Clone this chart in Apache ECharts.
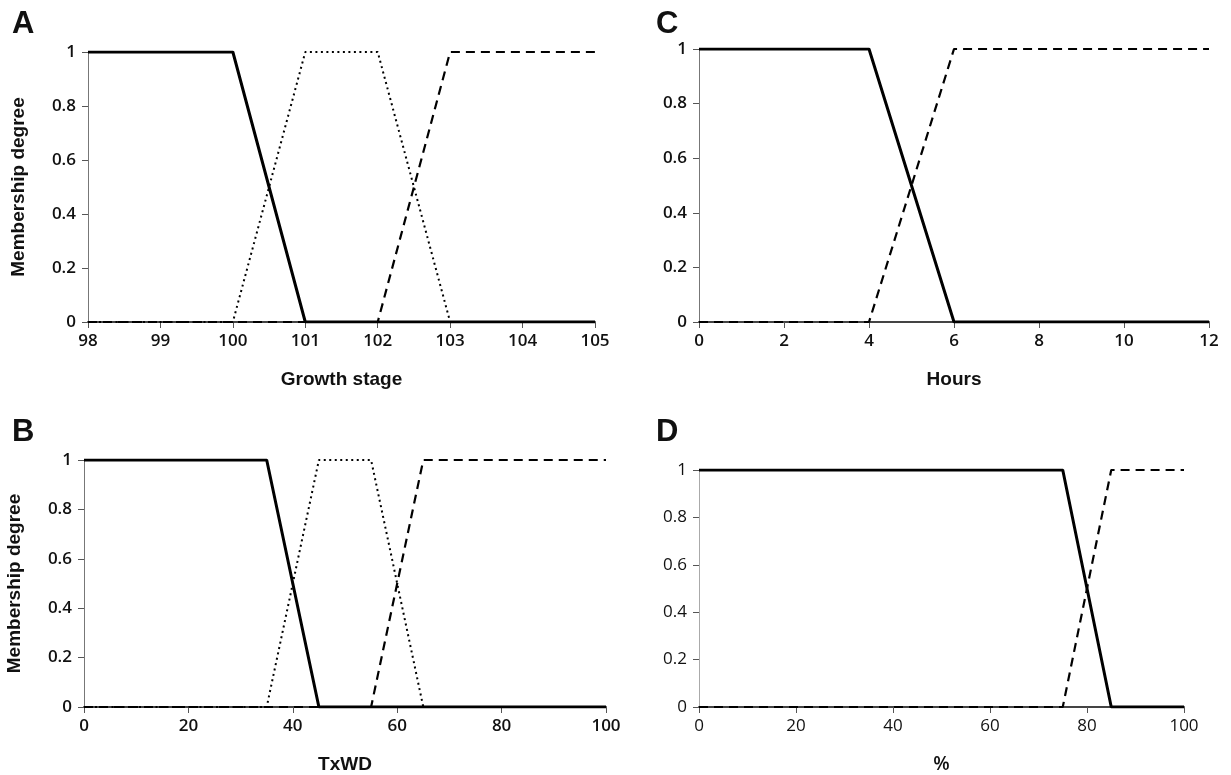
<!DOCTYPE html>
<html>
<head>
<meta charset="utf-8">
<script src="https://cdn.jsdelivr.net/npm/echarts@6/dist/echarts.min.js"></script>
<style>
html,body{margin:0;padding:0;background:#fff;}
#c{width:1231px;height:775px;}
</style>
</head>
<body>
<div id="c"></div>
<script>
// ---- Data ----
const panelLetters = ['A', 'B', 'C', 'D'];
const xNames = ['Growth stage', 'TxWD', 'Hours', '%'];
const yName = 'Membership degree';

// Panel A: Growth stage
const aSolidX = [98, 100, 101, 105];
const aSolidY = [1, 1, 0, 0];
const aDotX = [98, 100, 101, 102, 103, 105];
const aDotY = [0, 0, 1, 1, 0, 0];
const aDashX = [98, 102, 103, 105];
const aDashY = [0, 0, 1, 1];

// Panel B: TxWD
const bSolidX = [0, 35, 45, 100];
const bSolidY = [1, 1, 0, 0];
const bDotX = [0, 35, 45, 55, 65, 100];
const bDotY = [0, 0, 1, 1, 0, 0];
const bDashX = [0, 55, 65, 100];
const bDashY = [0, 0, 1, 1];

// Panel C: Hours
const cSolidX = [0, 4, 6, 12];
const cSolidY = [1, 1, 0, 0];
const cDashX = [0, 4, 6, 12];
const cDashY = [0, 0, 1, 1];

// Panel D: %
const dSolidX = [0, 75, 85, 100];
const dSolidY = [1, 1, 0, 0];
const dDashX = [0, 75, 85, 100];
const dDashY = [0, 0, 1, 1];

// Axis ranges
const xRanges = [[98, 105, 1], [0, 100, 20], [0, 12, 2], [0, 100, 20]];

function pairs(xs, ys) { return xs.map((x, i) => [x, ys[i]]); }

// ---- Layout ----
const grids = [
  {left: 88, width: 507, top: 52, height: 270},
  {left: 84, width: 522, top: 460, height: 247},
  {left: 699, width: 510, top: 49, height: 273},
  {left: 699, width: 485, top: 470, height: 238}
];
const titlePos = [[7, 4], [7, 412], [651, 4], [651, 412]];

const tickFont = {fontFamily: 'Open Sans', fontSize: 17, color: '#111'};
const nameFont = {fontFamily: 'Liberation Sans', fontSize: 19, fontWeight: 'bold', color: '#111'};

const xAxes = xRanges.map((r, i) => ({
  type: 'value', gridIndex: i, min: r[0], max: r[1], interval: r[2],
  name: xNames[i], nameLocation: 'middle', nameGap: 48,
  nameTextStyle: i === 3 ? Object.assign({}, nameFont, {fontFamily: 'Open Sans', fontWeight: 600}) : nameFont,
  axisLine: {show: true, onZero: false, lineStyle: {color: '#444', width: 2}},
  axisTick: {show: true, inside: false, length: 6, lineStyle: {color: '#555', width: 1}},
  axisLabel: Object.assign({margin: 11}, tickFont, {fontWeight: i === 3 ? 'normal' : 600}),
  splitLine: {show: false}
}));

const yAxes = grids.map((g, i) => ({
  type: 'value', gridIndex: i, min: 0, max: 1, interval: 0.2,
  name: (i < 2) ? yName : '', nameLocation: 'middle', nameGap: 60,
  nameTextStyle: nameFont,
  axisLine: {show: true, lineStyle: {color: i === 3 ? '#aaa' : '#777', width: 1}},
  axisTick: {show: true, inside: false, length: 6, lineStyle: {color: '#555', width: 1}},
  axisLabel: Object.assign({margin: 12}, tickFont, {fontWeight: i === 3 ? 'normal' : 600}),
  splitLine: {show: false}
}));

function line(xi, data, style, z) {
  let ls = {color: '#000'};
  if (style === 'solid') { ls.width = 3; ls.type = 'solid'; }
  else if (style === 'dotted') { ls.width = 2; ls.type = [2, 3.5]; }
  else { ls.width = 2.2; ls.type = [9, 6]; }
  return {
    type: 'line', xAxisIndex: xi, yAxisIndex: xi, data: data,
    showSymbol: false, symbol: 'none', lineStyle: ls, z: z, animation: false
  };
}

const series = [
  line(0, pairs(aDotX, aDotY), 'dotted', 2),
  line(0, pairs(aDashX, aDashY), 'dashed', 3),
  line(0, pairs(aSolidX, aSolidY), 'solid', 4),
  line(1, pairs(bDotX, bDotY), 'dotted', 2),
  line(1, pairs(bDashX, bDashY), 'dashed', 3),
  line(1, pairs(bSolidX, bSolidY), 'solid', 4),
  line(2, pairs(cDashX, cDashY), 'dashed', 3),
  line(2, pairs(cSolidX, cSolidY), 'solid', 4),
  line(3, pairs(dDashX, dDashY), 'dashed', 3),
  line(3, pairs(dSolidX, dSolidY), 'solid', 4)
];

const chart = echarts.init(document.getElementById('c'), null, {renderer: 'canvas'});
chart.setOption({
  backgroundColor: '#fff',
  animation: false,
  title: panelLetters.map((t, i) => ({
    text: t, left: titlePos[i][0], top: titlePos[i][1],
    textStyle: {fontFamily: 'Liberation Sans', fontSize: 31, fontWeight: 'bold', color: '#111'}
  })),
  grid: grids,
  xAxis: xAxes,
  yAxis: yAxes,
  series: series
});
</script>
</body>
</html>
